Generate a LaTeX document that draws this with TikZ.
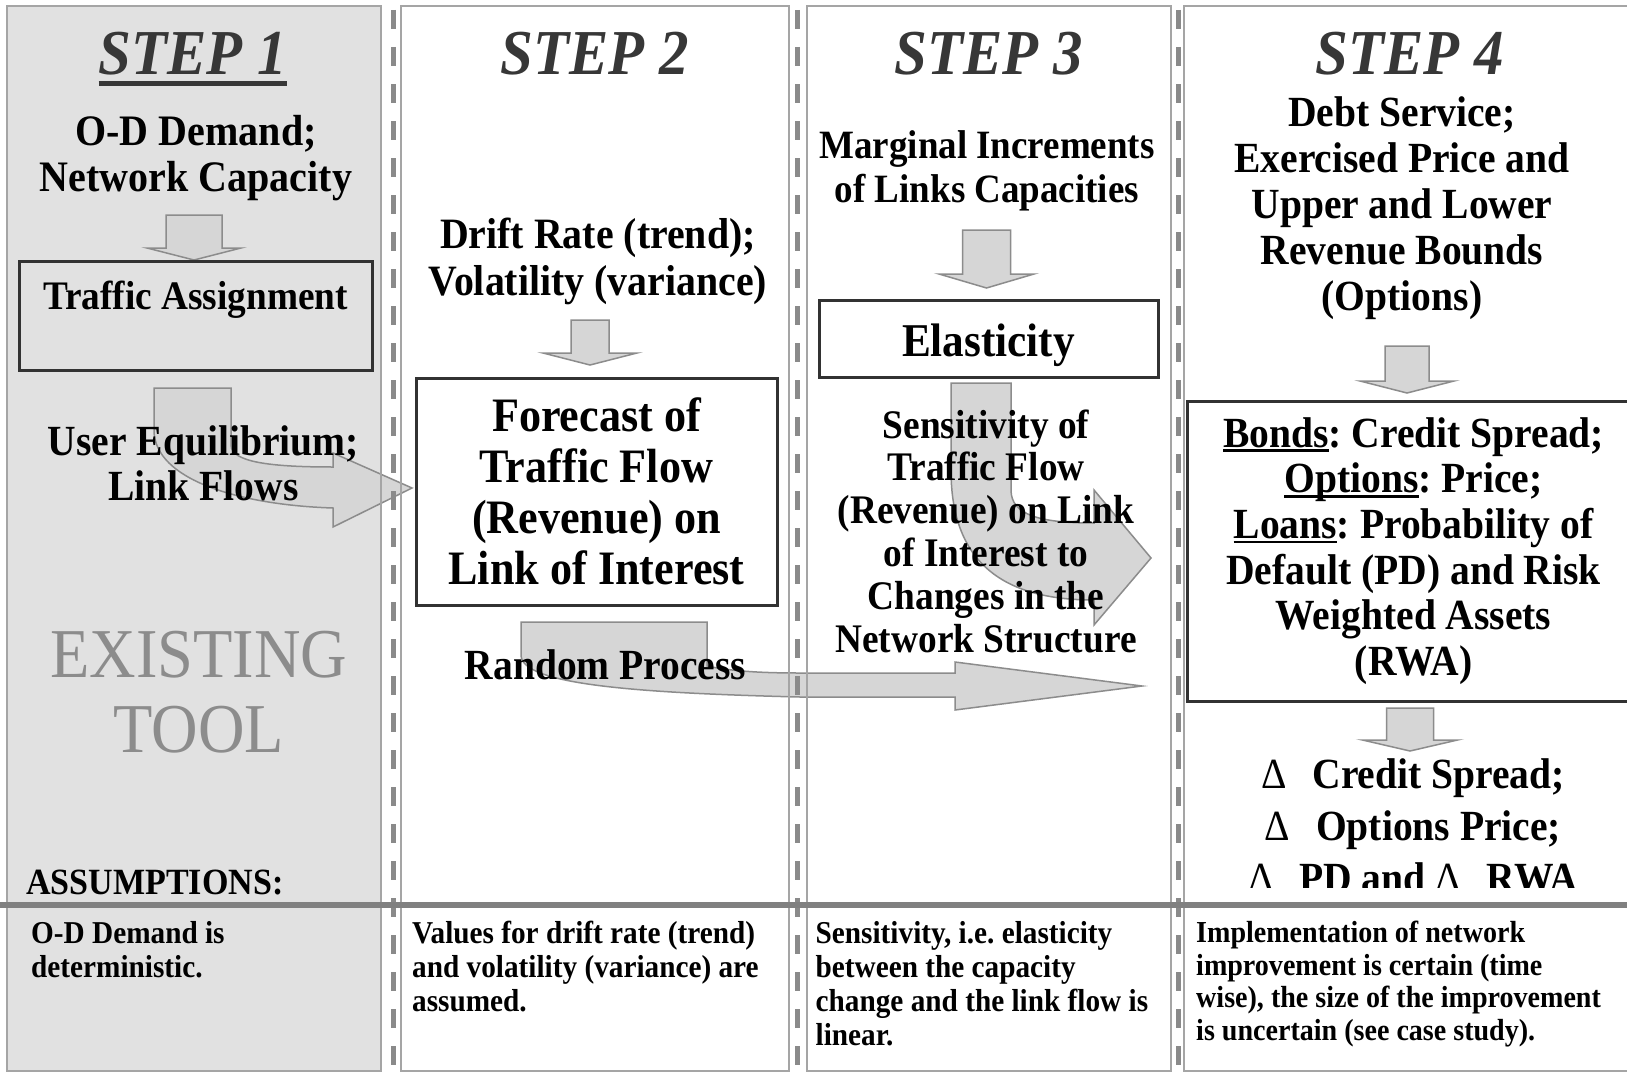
\documentclass[tikz,border=0pt]{standalone}
\usepackage{fontspec}
\setmainfont{Liberation Serif}[FakeStretch=0.92]
\usetikzlibrary{calc}
\definecolor{panelbg}{RGB}{225,225,225}
\definecolor{panelline}{RGB}{165,165,165}
\definecolor{sepgray}{RGB}{138,138,138}
\definecolor{boxline}{RGB}{50,50,50}
\definecolor{arrowfill}{RGB}{214,214,214}
\definecolor{arrowline}{RGB}{140,140,140}
\definecolor{stepgray}{RGB}{55,55,55}
\definecolor{toolgray}{RGB}{140,140,140}
\definecolor{hsepgray}{RGB}{128,128,128}
\newcommand\fsz[2]{\fontsize{#1}{#2}\selectfont}
\newcommand\uln[1]{\setbox0\hbox{#1}\rlap{\rule[-0.11em]{\wd0}{0.06em}}\box0}
\newcommand\dnarrow[6]{\filldraw[blockarrow] (#1-#5,#2) -- (#1+#5,#2) -- (#1+#5,#3) -- (#1+#6,#3) -- (#1,#4) -- (#1-#6,#3) -- (#1-#5,#3) -- cycle;}
\begin{document}
\frenchspacing
\begin{tikzpicture}[x=1pt,y=-1pt,
  txt/.style={align=center, inner sep=0pt},
  steph/.style={inner sep=0pt, text=stepgray, font=\fsz{64}{70}\bfseries\itshape},
  underl/.style={draw=stepgray, line width=4.5pt},
  boxnode/.style={draw=boxline, line width=3pt, inner sep=0pt},
  note/.style={anchor=north west, align=left, inner sep=0pt, font=\bfseries\fsz{31.8}{34}},
  blockarrow/.style={fill=arrowfill, draw=arrowline, line width=1.5pt, line join=miter},
  panel/.style={draw=panelline, line width=1.5pt},
  sepline/.style={draw=sepgray, line width=5pt, dash pattern=on 19pt off 18pt},
  hsep/.style={draw=hsepgray, line width=6pt}]
\fill[white] (0,0) rectangle (1627,1073);
\useasboundingbox (0,0) rectangle (1627,1073);
% panel fill
\fill[panelbg] (7,6) rectangle (381,1071);
% block arrows
\dnarrow{194}{215}{248}{260}{28}{47}
\dnarrow{590}{320}{353}{365}{19}{47}
\dnarrow{986.5}{230}{274}{288}{24}{47.5}
\dnarrow{1407}{346}{381}{393}{22}{47}
\dnarrow{1410}{708}{740}{751}{23.5}{47.5}
\filldraw[blockarrow] (154,388) -- (231,388) -- (231,445) .. controls (231,462) and (270,467) .. (333,467) -- (333,453) -- (412,488) -- (333,527) -- (333,508) .. controls (240,505) and (154,480) .. (154,430) -- cycle;
\filldraw[blockarrow] (521,622) -- (707,622) -- (707,666) .. controls (730,671) and (760,673) .. (800,673) -- (955,673) -- (955,662) -- (1142,686) -- (955,710) -- (955,697) -- (800,697) .. controls (640,693) and (521,685) .. (521,655) -- cycle;
\filldraw[blockarrow] (951,383) -- (1011,383) -- (1011,490) .. controls (1011,515) and (1040,523) .. (1094,523) -- (1094,490) -- (1151,558) -- (1094,625) -- (1094,600) .. controls (1000,600) and (951,560) .. (951,470) -- cycle;
% panel borders
\draw[panel] (7,6) rectangle (381,1071);
\draw[panel] (401,6) rectangle (789,1071);
\draw[panel] (807,6) rectangle (1171,1071);
\draw[panel] (1184,6) rectangle (1660,1071);
% separators
\draw[sepline] (393,10) -- (393,1073);
\draw[sepline] (797,10) -- (797,1073);
\draw[sepline] (1178,10) -- (1178,1073);
\draw[hsep] (0,905) -- (1627,905);
% column 1
\node[steph] (step1) at (193,54) {STEP 1};
\draw[underl] ($(step1.south west)+(0,8)$) -- ($(step1.south east)+(0,8)$);
\node[txt, font=\bfseries\fsz{43.5}{45.6}] (od) at (196,158) {O-D Demand;\\Network Capacity};
\node[boxnode, minimum width=353pt, text height=48.4pt, text depth=60.6pt, anchor=north, font=\bfseries\fsz{40.5}{44}] (ta) at (195.5,260) {Traffic Assignment};
\node[txt, font=\bfseries\fsz{43}{44.6}] (ue) at (203.5,463.5) {User Equilibrium;\\Link Flows};
\node[txt, font=\fsz{70}{74.7}, text=toolgray] (tool) at (199,692) {EXISTING\\TOOL};
\node[txt, font=\bfseries\fsz{37}{40}, anchor=west] (assum) at (26,883) {ASSUMPTIONS:};
\node[note] (n1) at (31,921) {O-D Demand is\\deterministic.};
% column 2
\node[steph] (step2) at (595,54) {STEP 2};
\node[txt, font=\bfseries\fsz{43.3}{47.5}] (drift) at (598,261.5) {Drift Rate (trend);\\Volatility (variance)};
\node[boxnode, minimum width=361pt, minimum height=227pt, align=center, font=\bfseries\fsz{48}{51}] (fc) at (596.5,491.5) {Forecast of\\Traffic Flow\\(Revenue) on\\Link of Interest};
\node[txt, font=\bfseries\fsz{43}{45}] (rp) at (605.5,665) {Random Process};
\node[note] (n2) at (412,921) {Values for drift rate (trend)\\and volatility (variance) are\\assumed.};
% column 3
\node[steph] (step3) at (988.5,54) {STEP 3};
\node[txt, font=\bfseries\fsz{40.2}{43.6}] (marg) at (987,171) {Marginal Increments\\of Links Capacities};
\node[boxnode, minimum width=339pt, text height=55.5pt, text depth=21.5pt, anchor=north, font=\bfseries\fsz{47}{50}] (el) at (988.5,299) {Elasticity};
\node[txt, font=\bfseries\fsz{40.6}{42.8}] (sens) at (986,531) {Sensitivity of\\Traffic Flow\\(Revenue) on Link\\of Interest to\\Changes in the\\Network Structure};
\node[note] (n3) at (815.5,921) {Sensitivity, i.e. elasticity\\between the capacity\\change and the link flow is\\linear.};
% column 4
\node[steph] (step4) at (1410,54) {STEP 4};
\node[txt, font=\bfseries\fsz{43}{45.9}] (debt) at (1402,208) {Debt Service;\\Exercised Price and\\Upper and Lower\\Revenue Bounds\\(Options)};
\node[boxnode, minimum width=453pt, minimum height=300pt, align=center, font=\bfseries\fsz{43}{45.7}] (bonds) at (1413.5,551) {\uln{Bonds}: Credit Spread;\\\uln{Options}: Price;\\\uln{Loans}: Probability of\\Default (PD) and Risk\\Weighted Assets\\(RWA)};
\begin{scope}
\clip (1184,700) rectangle (1627,887);
\node[txt, font=\bfseries\fsz{43}{52}] (delta) at (1413,826) {\textmd{Δ}\hspace{0.6em}Credit Spread;\\\textmd{Δ}\hspace{0.6em}Options Price;\\\textmd{Δ}\hspace{0.6em}PD and \textmd{Δ}\hspace{0.6em}RWA};
\end{scope}
\node[note, font=\bfseries\fsz{30.5}{32.5}] (n4) at (1196,921) {Implementation of network\\improvement is certain (time\\wise), the size of the improvement\\is uncertain (see case study).};
\end{tikzpicture}
\end{document}
